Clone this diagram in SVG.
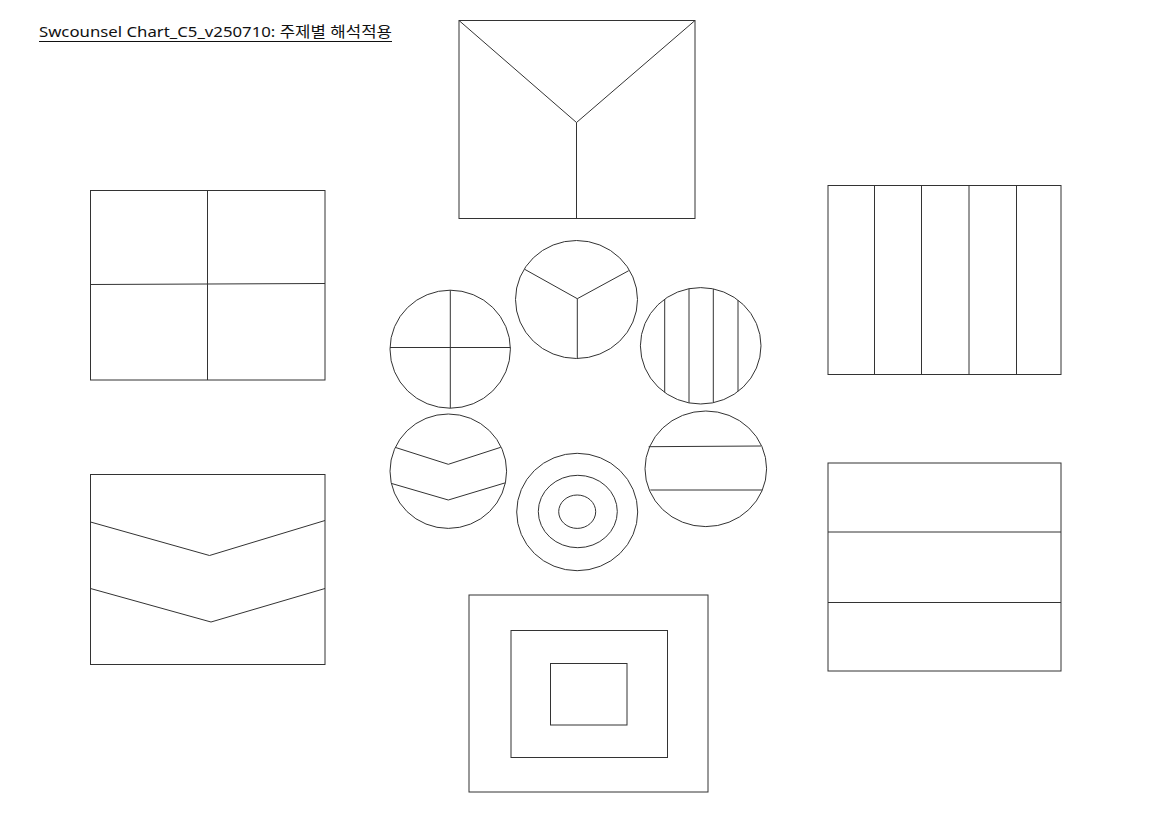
<svg xmlns="http://www.w3.org/2000/svg" width="1152" height="814" viewBox="0 0 1152 814">
<style>
.s{fill:none;stroke:#333;stroke-width:1}
.t{font-family:"Noto Sans","Noto Sans CJK KR",sans-serif;font-size:14.5px;fill:#111}
</style>
<rect width="1152" height="814" fill="#fff"/>
<g id="title">
<text class="t" x="39" y="37" textLength="353" lengthAdjust="spacingAndGlyphs">Swcounsel Chart_C5_v250710: 주제별 해석적용</text>
<line x1="39" y1="41.5" x2="392" y2="41.5" stroke="#111" stroke-width="1"/>
</g>
<g id="rect-y" class="s">
<rect x="459" y="20.5" width="236" height="198"/>
<polyline points="459,20.5 576.5,122.5 695,20.5"/>
<line x1="576.5" y1="122.5" x2="576.5" y2="218.5"/>
</g>
<g id="rect-grid" class="s">
<rect x="90.5" y="190.5" width="234.5" height="189.5"/>
<line x1="207.5" y1="190.5" x2="207.5" y2="380"/>
<line x1="90.5" y1="284.5" x2="325" y2="283.5"/>
</g>
<g id="rect-vstripes" class="s">
<rect x="828" y="185.5" width="233" height="189"/>
<line x1="874.5" y1="185.5" x2="874.5" y2="374.5"/>
<line x1="921.5" y1="185.5" x2="921.5" y2="374.5"/>
<line x1="969" y1="185.5" x2="969" y2="374.5"/>
<line x1="1016.5" y1="185.5" x2="1016.5" y2="374.5"/>
</g>
<g id="rect-chevron" class="s">
<rect x="90.5" y="474.5" width="234.5" height="190"/>
<polyline points="90.5,522 209.5,555.5 325,520.5"/>
<polyline points="90.5,588.5 211,622 325,588.5"/>
</g>
<g id="rect-concentric" class="s">
<rect x="469" y="595" width="239" height="197"/>
<rect x="511" y="630.5" width="156.5" height="127"/>
<rect x="550.5" y="663.5" width="76.5" height="61.5"/>
</g>
<g id="rect-hstripes" class="s">
<rect x="828" y="463" width="233" height="208"/>
<line x1="828" y1="532" x2="1061" y2="532"/>
<line x1="828" y1="602.5" x2="1061" y2="602.5"/>
</g>
<g id="circle-y" class="s">
<ellipse cx="576.5" cy="299.5" rx="61" ry="59"/>
<polyline points="524.7,269.3 577.3,298.7 628.7,270.7"/>
<line x1="577.3" y1="298.7" x2="577.3" y2="358.5"/>
</g>
<g id="circle-grid" class="s">
<ellipse cx="450.2" cy="349.2" rx="60.2" ry="59"/>
<line x1="450.3" y1="290.2" x2="450.3" y2="408.2"/>
<line x1="390" y1="347.5" x2="510.4" y2="347.5"/>
</g>
<g id="circle-vstripes" class="s">
<ellipse cx="700.7" cy="345.8" rx="60.3" ry="58.2"/>
<line x1="664.7" y1="299" x2="664.7" y2="392.5"/>
<line x1="689" y1="288.8" x2="689" y2="402.8"/>
<line x1="713.3" y1="289" x2="713.3" y2="402.6"/>
<line x1="738" y1="300.2" x2="738" y2="391.4"/>
</g>
<g id="circle-chevron" class="s">
<ellipse cx="448.3" cy="471.2" rx="58.3" ry="57.2"/>
<polyline points="395,447.3 448.3,464.3 500.7,447.3"/>
<polyline points="391,483.3 448.3,500 505.7,482.7"/>
</g>
<g id="circle-concentric" class="s">
<ellipse cx="577.2" cy="512" rx="60.5" ry="58.7"/>
<ellipse cx="577.8" cy="511.5" rx="39.5" ry="36.2"/>
<ellipse cx="577.2" cy="511.7" rx="18.5" ry="16.7"/>
</g>
<g id="circle-hstripes" class="s">
<ellipse cx="705.8" cy="468.8" rx="60.8" ry="57.8"/>
<line x1="648.7" y1="446.7" x2="761" y2="446"/>
<line x1="650.3" y1="490" x2="762" y2="490"/>
</g>
<g id="connectors"/>
</svg>
